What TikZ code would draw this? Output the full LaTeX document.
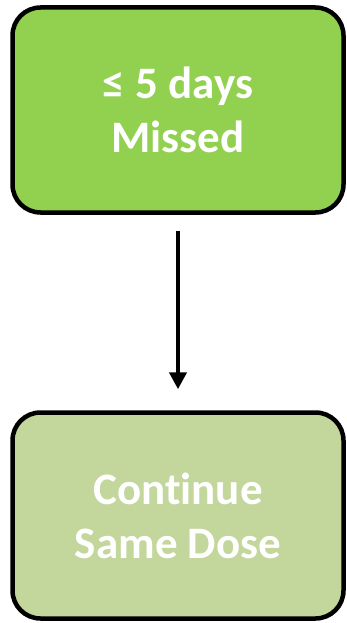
\documentclass[tikz,border=0pt]{standalone}
\usepackage{fontspec}
\setmainfont{Carlito}[Ligatures=NoCommon]
\usetikzlibrary{arrows.meta}
\definecolor{doseGreen}{HTML}{92D050}
\definecolor{doseLight}{HTML}{C3D69B}
\begin{document}
\begin{tikzpicture}[x=1pt,y=-1pt,
  dosebox/.style={rectangle, rounded corners=28pt, draw=black, line width=4.5pt,
    minimum width=331pt, minimum height=205pt, align=center, text=white,
    font=\fontsize{45}{54}\selectfont\bfseries}]
\useasboundingbox (0,0) rectangle (347,623);
%%%%%%%%%%%%%%%%%%%
\node[dosebox, fill=doseGreen] (missed) at (178,110) {≤ 5 days\\Missed};
\node[dosebox, fill=doseLight, minimum height=206pt] (cont) at (178,515.5) {\raisebox{-4pt}{Continue}\\\raisebox{-4pt}{Same Dose}};
%%%%%%%%%%%%%%%%%%%
\draw[line width=4.5pt, -{Triangle[width=17pt,length=17pt]}] ([yshift=-16pt]missed.south) -- ([yshift=21pt]cont.north);
\end{tikzpicture}
\end{document}
